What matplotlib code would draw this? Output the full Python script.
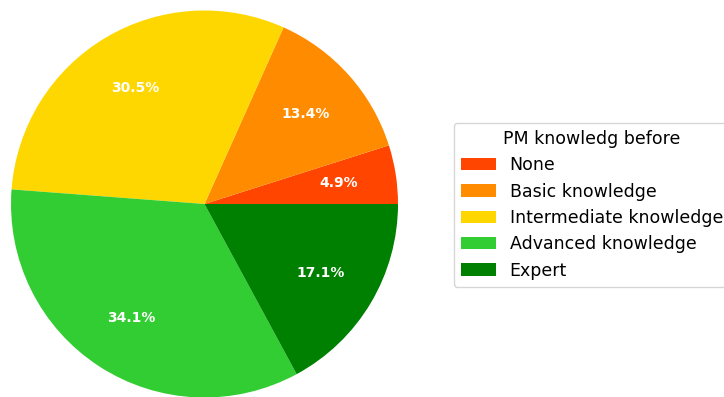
import matplotlib
matplotlib.use("Agg")
import matplotlib.pyplot as plt

categories = ["None", "Basic knowledge", "Intermediate knowledge",
              "Advanced knowledge", "Expert"]
shares = [4.9, 13.4, 30.5, 34.1, 17.1]
colors = ["#FF4500", "#FF8C00", "#FFD700", "#32CD32", "#008000"]

W, H = 724, 397
fig = plt.figure(figsize=(W / 100, H / 100), dpi=100)

# pie centred near the left, radius in pixels
cx, cy, r = 204.5, 204.0, 193.5
ax = fig.add_axes([(cx - r) / W, (H - cy - r) / H, 2 * r / W, 2 * r / H])

wedges, texts, autotexts = ax.pie(
    shares, colors=colors, autopct="%1.1f%%", startangle=0, pctdistance=0.7,
    textprops=dict(color="white", fontweight="bold", fontsize=10),
)
ax.set_xlim(-1, 1)
ax.set_ylim(-1, 1)
ax.set_aspect("equal")

fig.legend(
    wedges, categories, title="PM knowledg before",
    loc="upper left", bbox_to_anchor=(454 / W, (H - 123) / H),
    borderaxespad=0, fontsize=12.5, title_fontsize=12.5, labelspacing=0.48,
)

fig.savefig("out.png", dpi=100)
